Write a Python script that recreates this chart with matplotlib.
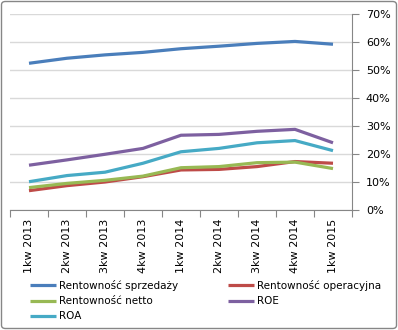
import numpy as np
import matplotlib
matplotlib.use("Agg")
import matplotlib.pyplot as plt
from matplotlib.patches import FancyBboxPatch
from matplotlib.ticker import FuncFormatter

quarters = ["1kw 2013", "2kw 2013", "3kw 2013", "4kw 2013", "1kw 2014",
            "2kw 2014", "3kw 2014", "4kw 2014", "1kw 2015"]

# values in %
sprzedazy = [52.4, 54.2, 55.4, 56.3, 57.6, 58.5, 59.5, 60.2, 59.2]
operacyjna = [6.9, 8.7, 10.0, 11.9, 14.3, 14.5, 15.5, 17.3, 16.7]
netto = [8.0, 9.5, 10.6, 12.1, 15.1, 15.5, 16.9, 17.1, 14.8]
roe = [16.0, 17.9, 19.9, 22.0, 26.7, 27.0, 28.1, 28.8, 24.0]
roa = [10.1, 12.3, 13.5, 16.7, 20.8, 22.0, 24.0, 24.8, 21.2]

names = ["Rentowność sprzedaży", "Rentowność operacyjna", "Rentowność netto", "ROE", "ROA"]
colors = ["#4A7EBB", "#BE4B48", "#98B954", "#7D60A0", "#46AAC5"]

plt.rcParams['font.family'] = ['DejaVu Sans']

fig = plt.figure(figsize=(3.98, 3.30), dpi=100)
W, H = 398, 330
ax = fig.add_axes([10 / W, (H - 210) / H, (352 - 10) / W, (210 - 14) / H])

x = np.arange(len(quarters))
lines = []
for vals, col, nm in zip([sprzedazy, operacyjna, netto, roe, roa], colors, names):
    ln, = ax.plot(x, vals, color=col, lw=2.3, label=nm, solid_capstyle='butt', zorder=3)
    lines.append(ln)

ax.set_xlim(-0.5, len(quarters) - 0.5)
ax.set_ylim(0, 70)
ax.set_yticks(np.arange(0, 71, 10))
ax.yaxis.set_major_formatter(FuncFormatter(lambda v, p: "%d%%" % v))
ax.yaxis.tick_right()
ax.tick_params(axis='y', direction='out', length=5, color='#868686', labelsize=8,
               pad=5, labelcolor='black')
ax.grid(axis='y', color='#D9D9D9', lw=1)
ax.set_axisbelow(True)

ax.set_xticks(np.arange(-0.5, len(quarters)), minor=False)
ax.set_xticklabels([])
ax.set_xticks(x, minor=True)
ax.set_xticklabels(quarters, minor=True, rotation=90, fontsize=8)
ax.tick_params(axis='x', which='major', direction='out', length=5, color='#868686')
ax.tick_params(axis='x', which='minor', length=0, pad=6)

for s in ['top', 'left']:
    ax.spines[s].set_visible(False)
ax.spines['right'].set_color('#868686')
ax.spines['bottom'].set_color('#868686')

order = [0, 2, 4, 1, 3]
leg = fig.legend([lines[i] for i in order], [names[i] for i in order],
                 ncol=2, loc='upper left', bbox_to_anchor=(30 / W, (H - 280) / H),
                 frameon=False, fontsize=7.5, handlelength=2.5, handletextpad=0.3,
                 columnspacing=4.8, labelspacing=0.5, borderaxespad=0, borderpad=0)

border = FancyBboxPatch((1.5 / W, 1.5 / H), (W - 3) / W, (H - 3) / H,
                        boxstyle="round,pad=0,rounding_size=0.01",
                        transform=fig.transFigure, fill=False, edgecolor='#868686', lw=1)
fig.patches.append(border)

fig.savefig("out.png", dpi=100)
